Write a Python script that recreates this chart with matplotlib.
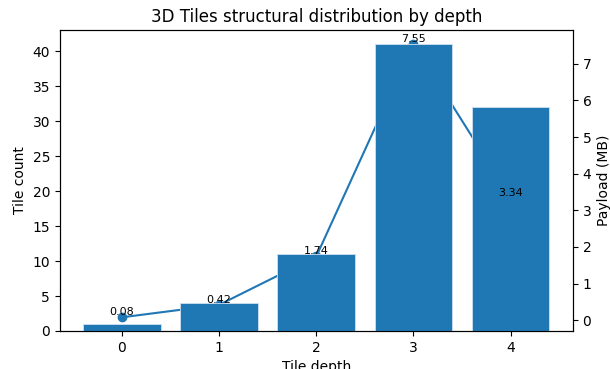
import matplotlib
matplotlib.use("Agg")
import matplotlib.pyplot as plt

depths = [0, 1, 2, 3, 4]
tile_count = [1, 4, 11, 41, 32]
payload_mb = [0.08, 0.42, 1.74, 7.55, 3.34]

fig, ax = plt.subplots(figsize=(6.1, 3.69), dpi=100)
ax2 = ax.twinx()

# line on the twin axis, bars drawn above it
ax2.plot(depths, payload_mb, marker='o', color='#1f77b4')
ax2.set_ylabel('Payload (MB)')

ax.bar(depths, tile_count, color='#1f77b4', edgecolor='#cfe0f0', linewidth=0.6)
ax.set_zorder(ax2.get_zorder() + 1)
ax.patch.set_visible(False)
ax.set_xlabel('Tile depth')
ax.set_ylabel('Tile count')
ax.set_title('3D Tiles structural distribution by depth')

for d, p in zip(depths, payload_mb):
    ax.text(d, p, f'{p:.2f}', transform=ax2.transData,
            ha='center', va='bottom', fontsize=8)

fig.subplots_adjust(left=0.098, right=0.939, bottom=0.103, top=0.919)
fig.savefig('out.png')
